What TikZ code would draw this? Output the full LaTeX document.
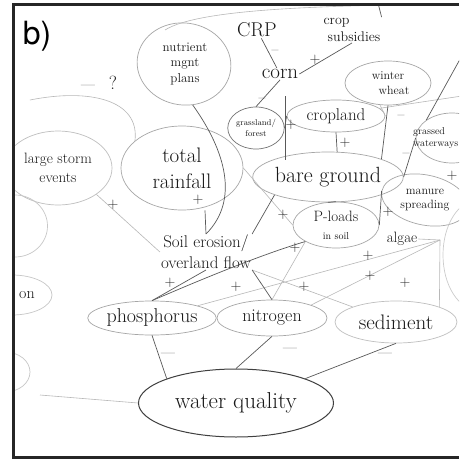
\documentclass[tikz,border=0pt]{standalone}
\usepackage{fontspec}
\setsansfont{TeX Gyre Heros}
\usetikzlibrary{shapes.geometric}
\newcommand{\fs}[1]{\fontsize{#1}{1.22\dimexpr #1pt\relax}\selectfont}
\begin{document}
\begin{tikzpicture}[x=1pt,y=-1pt,
  oval/.style={ellipse, draw=black!35, line width=0.7pt, inner sep=0pt, align=center, text=black!90},
  ovaldark/.style={ellipse, draw=black!75, line width=1pt, inner sep=0pt, align=center, text=black!90},
  lbl/.style={align=center, inner sep=1pt, text=black!90},
  sgn/.style={inner sep=0pt, font=\fs{15}, text=black!85},
  conn/.style={draw=black!65, line width=0.7pt},
  fconn/.style={draw=black!28, line width=0.6pt},
]
\useasboundingbox (0,0) rectangle (459,461);
\fill[white] (0,0) rectangle (459,461);

\begin{scope}
\clip (14,5) rectangle (459,456);
% nodes
\node[oval, minimum width=94pt, minimum height=82pt, rotate=-8] (nmp) at (184,64) {};
\node[lbl, font=\fs{13}] (nmpt) at (185,64) {nutrient\\mgnt\\plans};
\node[lbl, font=\fs{20}] (crp) at (257,30) {CRP};
\node[lbl, font=\fs{14}, align=left] (subs) at (352,30) {crop\\\hspace*{4pt}subsidies};
\node[lbl, font=\fs{21}] (corn) at (280,74) {corn};
\node[oval, minimum width=86pt, minimum height=44pt, font=\fs{12}] (ww) at (388,83) {winter\\\hspace*{12pt}wheat};
\node[oval, draw=black!55, minimum width=56pt, minimum height=42pt, font=\fs{8.5}] (gf) at (256,128) {grassland/\\forest};
\node[oval, minimum width=98pt, minimum height=32pt, font=\fs{17}] (crop) at (336,116) {cropland};
\node[oval, minimum width=72pt, minimum height=50pt] (gw) at (452,138) {};
\node[lbl, font=\fs{10}, align=left, anchor=west] (gwt) at (412,138) {grassed\\waterways};
\node[oval, draw=black!25, minimum width=108pt, minimum height=74pt, font=\fs{15}] (lse) at (58,168) {large storm\\events};
\node[oval, minimum width=122pt, minimum height=84pt, font=\fs{21}] (tr) at (182,168) {total\\rainfall};
\node[oval, minimum width=148pt, minimum height=50pt, font=\fs{22}] (bg) at (328,177) {bare ground};
\node[oval, minimum width=86pt, minimum height=46pt, font=\fs{15}] (pl) at (336,225) {P-loads\\{\fs{10}in soil}};
\node[oval, minimum width=88pt, minimum height=50pt, rotate=-12] (ms) at (425,200) {};
\node[lbl, font=\fs{12}] (mst) at (425,200) {manure\\spreading};
\node[lbl, font=\fs{15}] (alg) at (402,239) {algae};
\node[lbl, font=\fs{17}] (se) at (206,252) {Soil erosion/\\overland flow};
\node[oval, draw=black!22, minimum width=65pt, minimum height=62pt] (lc1) at (15,226) {};
\node[oval, draw=black!22, minimum width=80pt, minimum height=40pt] (lc2) at (12,295) {};
\node[lbl, font=\fs{16}] (ont) at (27,295) {on};
\node[oval, draw=black!22, minimum width=50pt, minimum height=40pt] (lc3) at (5,372) {};
\node[oval, draw=black!20, minimum width=70pt, minimum height=110pt] (lc4) at (478,255) {};
\node[oval, minimum width=122pt, minimum height=34pt, font=\fs{20}] (ph) at (152,318) {phosphorus};
\node[oval, minimum width=110pt, minimum height=36pt, font=\fs{18}] (ni) at (272,318) {nitrogen};
\node[oval, draw=black!25, minimum width=122pt, minimum height=42pt, font=\fs{21}] (sed) at (396,322) {sediment};
\node[ovaldark, minimum width=195pt, minimum height=68pt, font=\fs{23}] (wq) at (236,403) {water quality};

% free ends
\coordinate (topA) at (378,3);
\coordinate (topR) at (464,52);
\coordinate (rgt) at (462,96);
\coordinate (lft) at (30,100);
\coordinate (lfb) at (40,395);
\coordinate (arcA) at (165,30);
\coordinate (arcB) at (440,4);
\coordinate (hub) at (440,240);
\coordinate (v1) at (285,96);
\coordinate (v2) at (285,160);

% faint shapes
\draw[fconn] (arcA) .. controls (200,8) and (330,6) .. (arcB);
\draw[fconn] (lft) .. controls (90,88) and (140,100) .. (tr.150);
\draw[fconn] (lse.south east) -- (se.west);
\draw[fconn] (crop.10) -- (rgt);
\draw[fconn] (crop.east) -- (ww.250);
\draw[fconn] (tr.east) -- (pl.west);
\draw[fconn] (hub) -- (ph.north east);
\draw[fconn] (hub) -- (ni.north east);
\draw[fconn] (hub) -- (sed.north east);
\draw[fconn] (alg.east) -- (hub);
\draw[fconn] (se.south east) -- (sed.north west);
\draw[fconn] (pl.south west) -- (ni.north);
\draw[fconn] (lfb) -- (wq.west);

% connectors
\draw[conn] (crp) -- (corn);
\draw[conn] (corn.east) -- (subs.south);
\draw[conn] (subs.north east) -- (topA);
\draw[conn] (corn.south) -- (gf.north);
\draw[conn] (v1) -- (v2);
\draw[conn] (nmp.-70) .. controls (225,150) and (240,200) .. (se.north);
\draw[conn] (gf.east) -- (crop.west);
\draw[conn] (crop.south) -- (bg.70);
\draw[conn] (ww.south) -- (bg.north east);
\draw[conn] (topR) -- (gw.north west);
\draw[conn] (gw.west) -- (bg.east);
\draw[conn] (ms.west) -- (pl.east);
\draw[conn] (bg.south) -- (pl.north);
\draw[conn] (bg.south west) -- (se.north east);
\draw[conn] (tr.south) ++(23,0) -- (se.north);
\draw[conn] (pl.south west) .. controls (260,255) and (200,280) .. (ph.north);
\draw[conn] (se.south) -- (ph.north);
\draw[conn] (se.south east) -- (ni.north);
\draw[conn] (ph.south) -- (wq.north west);
\draw[conn] (ni.south) -- (wq.north);
\draw[conn] (sed.south) -- (wq.north east);

% signs
\node[sgn] (s1) at (88,87) {---};
\node[sgn, font=\fs{19}] (s2) at (113,83) {?};
\node[sgn] (s3) at (275,52) {--};
\node[sgn] (s4) at (315,60) {+};
\node[sgn] (s5) at (262,100) {--};
\node[sgn] (s6) at (291,125) {+};
\node[sgn] (s7) at (345,143) {+};
\node[sgn] (s8) at (401,117) {--};
\node[sgn] (s9) at (406,155) {--};
\node[sgn] (s10) at (452,176) {+};
\node[sgn] (s11) at (113,205) {+};
\node[sgn] (s12) at (198,200) {+};
\node[sgn] (s13) at (283,215) {+};
\node[sgn] (s14) at (388,212) {+};
\node[sgn] (s15) at (295,248) {+};
\node[sgn] (s16) at (368,256) {+};
\node[sgn] (s17) at (370,276) {+};
\node[sgn] (s18) at (405,283) {+};
\node[sgn] (s19) at (304,287) {+};
\node[sgn] (s20) at (236,287) {+};
\node[sgn] (s21) at (170,283) {+};
\node[sgn] (s22) at (168,355) {---};
\node[sgn] (s23) at (290,350) {---};
\node[sgn] (s24) at (385,355) {---};
\end{scope}

% frame and label
\draw[line width=3pt, black!85] (459,4) -- (13,4) -- (13,457) -- (459,457);
\node[font=\sffamily\fs{32}, inner sep=0pt] (lab) at (37,36) {b)};
\end{tikzpicture}
\end{document}
